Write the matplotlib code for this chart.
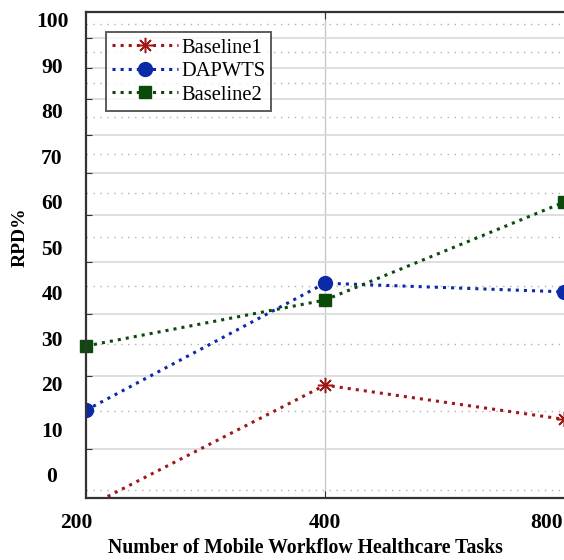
import matplotlib
matplotlib.use("Agg")
import matplotlib.pyplot as plt
import matplotlib.transforms as mtransforms

# data
tasks = ["200", "400", "800"]
baseline1 = [-6.7, 20.2, 12.7]
dapwts = [14.7, 42.6, 40.7]
baseline2 = [28.8, 38.9, 60.4]
ytick_labels = [0, 10, 20, 30, 40, 50, 60, 70, 80, 90, 100]

# grid lines of the original (they do not follow the labels)
major_grid = [96.5, 89.9, 83.1, 75.2, 66.8, 57.6, 47.3, 35.8, 22.2, 6.2]
minor_grid = [99.6, 93.4, 86.6, 79.1, 71.0, 62.4, 52.7, 42.0, 29.2, 14.5, -2.9]

plt.rcParams['font.family'] = ['Liberation Serif', 'DejaVu Serif']

fig = plt.figure(figsize=(5.64, 5.60), dpi=100)
ax = fig.add_axes([86/564, 62/560, 478/564, 486/560])

x = list(range(len(tasks)))
ax.plot(x, baseline1, linestyle=':', linewidth=2.2, color='#a01818',
        marker=(8, 2, 0), markersize=11, markeredgewidth=1.1, label='Baseline1')
ax.plot(x, dapwts, linestyle=':', linewidth=2.2, color='#0a2aa8',
        marker='o', markersize=10, label='DAPWTS')
ax.plot(x, baseline2, linestyle=':', linewidth=2.2, color='#0b4a0b',
        marker='s', markersize=8, label='Baseline2', clip_on=False)

ax.set_xlim(0, 2)
ax.set_ylim(-4.6, 102.2)

ax.set_yticks(major_grid)
ax.set_yticks(minor_grid, minor=True)
ax.set_yticklabels([])
ax.tick_params(axis='y', which='major', direction='in', length=4, color='#333333')
ax.tick_params(axis='y', which='minor', length=0)
ax.grid(axis='y', which='major', color='#d9d9d9', linewidth=1.2, linestyle='-')
ax.grid(axis='y', which='minor', color='#b0b0b0', linewidth=1.0, linestyle=(0, (1, 4)))
ax.axvline(1, color='#c8c8c8', linewidth=1.0, zorder=0)

ax.set_xticks([1])
ax.set_xticklabels([])
ax.tick_params(axis='x', direction='in', length=5, color='#333333', top=True)

trans = mtransforms.blended_transform_factory(fig.transFigure, ax.transData)
for v in ytick_labels:
    ax.text(52/564, v, str(v), transform=trans, ha='center', va='center',
            fontsize=15.5, fontweight='bold')

xtrans = mtransforms.blended_transform_factory(ax.transData, fig.transFigure)
xpos = [-0.04, 1, 1.995]
has = ['center', 'center', 'right']
for xi, lab, ha in zip(xpos, tasks, has):
    ax.text(xi, 1 - 523/560, lab, transform=xtrans,
            ha=ha, va='center', fontsize=15.5, fontweight='bold')

fig.text(305/564, 1 - 548/560, "Number of Mobile Workflow Healthcare Tasks",
         ha='center', va='center', fontsize=14.2, fontweight='bold')
fig.text(20/564, 1 - 237/560, "RPD%", rotation=90, ha='center', va='center',
         fontsize=14, fontweight='bold')

for s in ['left', 'top', 'bottom']:
    ax.spines[s].set_color('#333333')
    ax.spines[s].set_linewidth(1.6)
ax.spines['right'].set_visible(False)

leg = ax.legend(loc='upper left', bbox_to_anchor=(20/478, 1 - 20/486),
                fontsize=14.8, frameon=True, fancybox=False, handlelength=3.2,
                borderpad=0.3, labelspacing=0.2, handletextpad=0.15,
                borderaxespad=0)
leg.get_frame().set_edgecolor('#333333')
leg.get_frame().set_linewidth(1.4)

fig.savefig("out.png", dpi=100)
